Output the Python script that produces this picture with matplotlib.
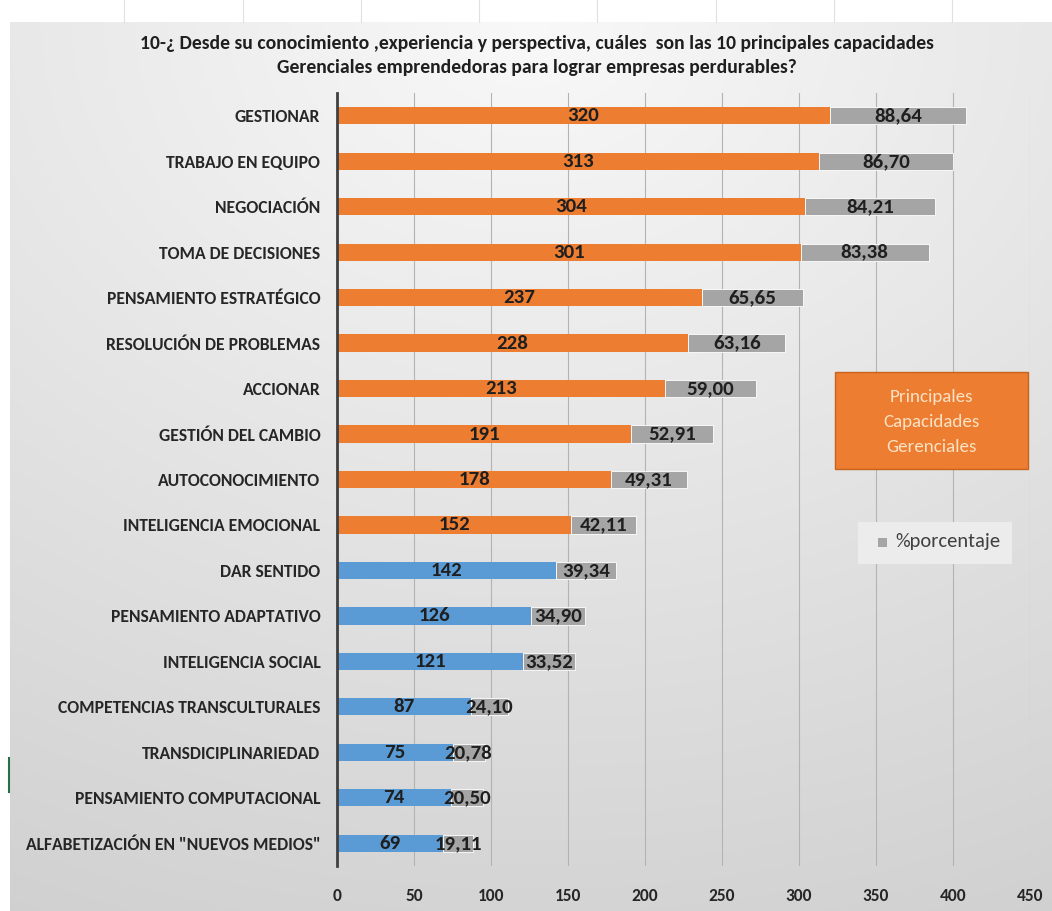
import numpy as np
import matplotlib
matplotlib.use("Agg")
import matplotlib.pyplot as plt
from matplotlib.patches import Rectangle

# Data
capacidades = ["GESTIONAR", "TRABAJO EN EQUIPO", "NEGOCIACIÓN", "TOMA DE DECISIONES",
               "PENSAMIENTO ESTRATÉGICO", "RESOLUCIÓN DE PROBLEMAS", "ACCIONAR",
               "GESTIÓN DEL CAMBIO", "AUTOCONOCIMIENTO", "INTELIGENCIA EMOCIONAL",
               "DAR SENTIDO", "PENSAMIENTO ADAPTATIVO", "INTELIGENCIA SOCIAL",
               "COMPETENCIAS TRANSCULTURALES", "TRANSDICIPLINARIEDAD",
               "PENSAMIENTO COMPUTACIONAL", 'ALFABETIZACIÓN EN "NUEVOS MEDIOS"']
frecuencia = [320, 313, 304, 301, 237, 228, 213, 191, 178, 152,
              142, 126, 121, 87, 75, 74, 69]
porcentaje = [88.64, 86.70, 84.21, 83.38, 65.65, 63.16, 59.00, 52.91, 49.31, 42.11,
              39.34, 34.90, 33.52, 24.10, 20.78, 20.50, 19.11]
n_principales = 10
x_ticks = [0, 50, 100, 150, 200, 250, 300, 350, 400, 450]

NARANJA = "#ED7D31"
AZUL = "#5B9BD5"
GRIS = "#A5A5A5"
TEXTO = "#1f1f1f"

plt.rcParams['font.family'] = ['Carlito', 'DejaVu Sans']

W, H = 1052, 911
fig = plt.figure(figsize=(W / 100, H / 100), dpi=100)
fig.patch.set_facecolor("white")

# Background panel with soft gradient
bg = fig.add_axes([10 / W, 0, 1 - 10 / W, 1 - 22 / H])
bg.set_axis_off()
yy, xx = np.mgrid[0:1:300j, 0:1:300j]
r = np.sqrt((xx - 0.5) ** 2 + (yy * 1.1) ** 2)
shade = 0.975 - 0.13 * np.clip(r, 0, 1.2)
bg.imshow(np.dstack([shade] * 3), aspect="auto", extent=[0, 1, 1, 0])
bg.set_xlim(0, 1)
bg.set_ylim(1, 0)

# Faint sheet gridlines above the chart area, and the cell marker on the left
for px in [124, 243, 361, 479, 597, 716, 834, 952]:
    fig.add_artist(plt.Line2D([px / W, px / W], [1 - 22 / H, 1], color="#e0e0e0", lw=0.8))
fig.add_artist(plt.Line2D([8.5 / W, 8.5 / W], [1 - 792 / H, 1 - 758 / H], color="#217346", lw=1.5))

ax = fig.add_axes([337 / W, 1 - 866 / H, 693 / W, 773 / H])
ax.patch.set_alpha(0)

y = np.arange(len(capacidades))
colores = [NARANJA if i < n_principales else AZUL for i in range(len(capacidades))]
ax.barh(y, frecuencia, height=0.38, color=colores, zorder=3)
ax.barh(y, porcentaje, left=frecuencia, height=0.38, color=GRIS,
        edgecolor="white", linewidth=0.6, zorder=3)

for yi, v, p in zip(y, frecuencia, porcentaje):
    ax.text(v / 2, yi, f"{v}", ha="center", va="center", fontsize=15,
            fontweight="bold", color=TEXTO, zorder=4)
    ax.text(v + p / 2, yi, f"{p:.2f}".replace(".", ","), ha="center", va="center",
            fontsize=15, fontweight="bold", color=TEXTO, zorder=4)

ax.set_ylim(len(capacidades) - 0.5, -0.5)
ax.set_xlim(0, 450)
ax.set_yticks(y)
ax.set_yticklabels(capacidades, fontsize=12.7, fontweight="bold", color="#262626")
ax.set_xticks(x_ticks)
ax.set_xticklabels([str(t) for t in x_ticks], fontsize=12.5, fontweight="bold", color="#262626")
ax.tick_params(axis="y", length=0, pad=12)
ax.tick_params(axis="x", length=0, pad=16)
ax.grid(axis="x", color="#b3b3b3", linewidth=0.8, zorder=0)
for s in ["top", "right", "bottom"]:
    ax.spines[s].set_visible(False)
ax.spines["left"].set_color("#404040")
ax.spines["left"].set_linewidth(2)
ax.spines["left"].set_zorder(5)

# Title
fig.text(0.51, 1 - 44 / H, "10-¿ Desde su conocimiento ,experiencia y perspectiva, cuáles  son las 10 principales capacidades",
         ha="center", va="center", fontsize=14.1, fontweight="bold", color=TEXTO)
fig.text(0.51, 1 - 68 / H, "Gerenciales emprendedoras para lograr empresas perdurables?",
         ha="center", va="center", fontsize=14.1, fontweight="bold", color=TEXTO)

# Orange note box
fig.add_artist(Rectangle((835 / W, 1 - 469 / H), 193 / W, 97 / H, transform=fig.transFigure,
                         facecolor=NARANJA, edgecolor="#c8631f", linewidth=1, zorder=6))
for k, linea in enumerate(["Principales", "Capacidades", "Gerenciales"]):
    fig.text(931 / W, 1 - (397 + 25 * k) / H, linea, ha="center", va="center",
             fontsize=13.7, color="#fce2c4", zorder=7)

# Legend for the percentage series
fig.add_artist(Rectangle((858 / W, 1 - 564 / H), 154 / W, 42 / H, transform=fig.transFigure,
                         facecolor="#ececec", edgecolor="none", zorder=6))
fig.add_artist(Rectangle((878 / W, 1 - 547 / H), 9 / W, 9 / H, transform=fig.transFigure,
                         facecolor=GRIS, edgecolor="none", zorder=7))
fig.text(895 / W, 1 - 542 / H, "%porcentaje", ha="left", va="center",
         fontsize=14.8, color="#404040", zorder=7)

fig.savefig("out.png", dpi=100)
